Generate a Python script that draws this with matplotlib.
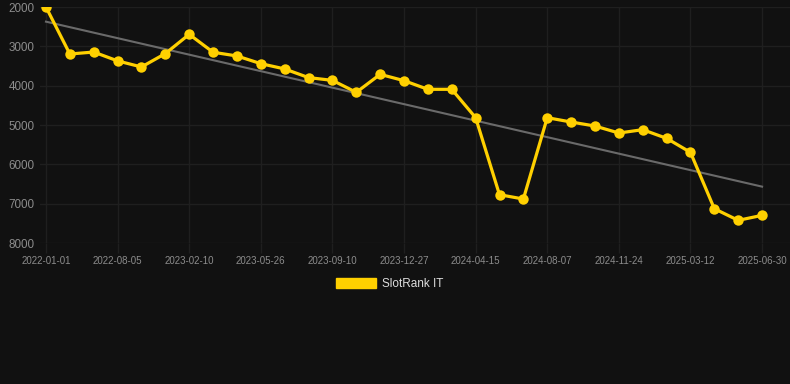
import numpy as np
import matplotlib
matplotlib.use("Agg")
import matplotlib.pyplot as plt
from matplotlib.patches import Patch

# rank values per sample (lower = better, axis inverted)
ranks = [2000, 3195, 3145, 3370, 3525, 3185, 2695, 3150, 3245, 3440,
         3575, 3795, 3865, 4170, 3712, 3873, 4093, 4093, 4814, 6772,
         6882, 4814, 4924, 5026, 5204, 5119, 5339, 5695, 7128, 7424, 7297]
tick_labels = ["2022-01-01", "2022-08-05", "2023-02-10", "2023-05-26",
               "2023-09-10", "2023-12-27", "2024-04-15", "2024-08-07",
               "2024-11-24", "2025-03-12", "2025-06-30"]
y_ticks = [2000, 3000, 4000, 5000, 6000, 7000, 8000]

bg = "#111111"
grid_c = "#1f1f1f"
text_c = "#8c8c8c"
gold = "#FFD000"

plt.rcParams['font.family'] = ['Liberation Sans', 'DejaVu Sans']

fig = plt.figure(figsize=(7.9, 3.84), dpi=100, facecolor=bg)
ax = fig.add_axes([40/790, 141/384, 750/790, 236/384])
ax.set_facecolor(bg)

x = np.arange(len(ranks))
# linear trend
k, b = np.polyfit(x, ranks, 1)
ax.plot(x, k*x + b, color="#6a6a6a", lw=1.5, zorder=2)

ax.plot(x, ranks, color=gold, lw=2.3, marker="o", markersize=7.5,
        markeredgewidth=0, zorder=3)

ax.set_ylim(8000, 2000)
ax.set_xlim(-0.25, 31.17)
ax.set_yticks(y_ticks)
ax.set_yticklabels([str(v) for v in y_ticks])
ax.set_xticks(x[::3])
ax.set_xticklabels(tick_labels)

ax.grid(True, color=grid_c, lw=1.0)
ax.set_axisbelow(True)
for s in ax.spines.values():
    s.set_visible(False)
ax.tick_params(axis='y', length=0, pad=4, labelsize=8.4, labelcolor=text_c)
ax.tick_params(axis='x', length=7, width=1.0, color=grid_c, pad=2,
               labelsize=7.0, labelcolor=text_c)

# legend shown as a filled box
fig.legend(handles=[Patch(facecolor=gold, edgecolor=gold, label="SlotRank IT")],
           loc="center", bbox_to_anchor=(390/790, 1 - 284/384),
           frameon=False, handlelength=3.4, handleheight=1.0,
           handletextpad=0.5, fontsize=8.5, labelcolor="#dddddd")

fig.savefig("out.png", dpi=100, facecolor=bg)
